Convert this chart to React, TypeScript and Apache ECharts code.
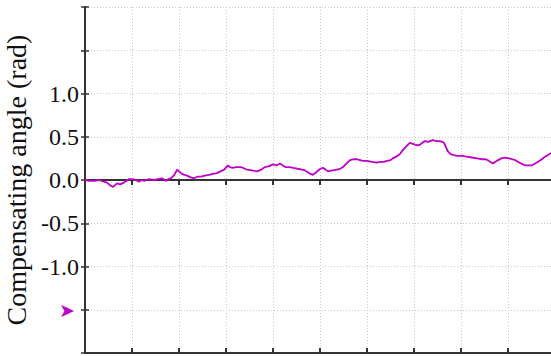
import React, { useEffect, useRef } from "react";
import * as echarts from "echarts";

// Time axis (arbitrary units, one grid cell per unit) and the measured angle
const timeAxis: number[] = [
  0.0, 0.1, 0.21, 0.3, 0.4, 0.47, 0.53, 0.6, 0.64, 0.68, 0.75, 0.83, 0.88, 0.94, 1.02, 1.08,
  1.15, 1.2, 1.26, 1.36, 1.47, 1.55, 1.64, 1.72, 1.78, 1.83, 1.9, 1.96, 2.0, 2.06, 2.12, 2.17,
  2.25, 2.32, 2.4, 2.47, 2.55, 2.64, 2.72, 2.81, 2.88, 2.96, 3.04, 3.08, 3.13, 3.22, 3.32, 3.4,
  3.45, 3.55, 3.66, 3.75, 3.83, 3.92, 4.0, 4.08, 4.15, 4.2, 4.26, 4.35, 4.43, 4.52, 4.62, 4.68,
  4.74, 4.8, 4.85, 4.9, 4.96, 5.01, 5.06, 5.12, 5.17, 5.27, 5.36, 5.43, 5.49, 5.56, 5.64, 5.72,
  5.79, 5.85, 5.91, 6.0, 6.11, 6.2, 6.28, 6.36, 6.43, 6.5, 6.55, 6.62, 6.7, 6.74, 6.82, 6.91,
  6.96, 7.02, 7.08, 7.13, 7.18, 7.23, 7.3, 7.4, 7.48, 7.55, 7.6, 7.64, 7.68, 7.72, 7.78, 7.83,
  7.92, 8.02, 8.12, 8.23, 8.34, 8.45, 8.52, 8.57, 8.62, 8.68, 8.73, 8.79, 8.86, 8.94, 9.02, 9.09,
  9.15, 9.21, 9.28, 9.36, 9.44, 9.51, 9.58, 9.64, 9.72, 9.79, 9.85, 9.91, 10.0,
];

const angle: number[] = [
  0.0, -0.01, -0.01, 0.0, -0.02, -0.03, -0.06, -0.08, -0.06, -0.04, -0.05, -0.03, -0.01, 0.01, 0.01, 0.0,
  -0.02, 0.0, -0.01, 0.01, 0.0, 0.01, 0.02, -0.01, 0.01, 0.02, 0.06, 0.12, 0.1, 0.07, 0.06, 0.05,
  0.03, 0.02, 0.04, 0.04, 0.05, 0.06, 0.07, 0.08, 0.1, 0.12, 0.17, 0.15, 0.14, 0.15, 0.15, 0.13,
  0.12, 0.11, 0.1, 0.12, 0.15, 0.16, 0.18, 0.17, 0.19, 0.17, 0.15, 0.15, 0.14, 0.13, 0.12, 0.11,
  0.09, 0.07, 0.06, 0.08, 0.11, 0.13, 0.14, 0.12, 0.1, 0.11, 0.12, 0.13, 0.15, 0.19, 0.23, 0.24,
  0.24, 0.23, 0.22, 0.22, 0.21, 0.2, 0.21, 0.21, 0.22, 0.23, 0.25, 0.27, 0.3, 0.33, 0.38, 0.43,
  0.42, 0.41, 0.4, 0.41, 0.43, 0.45, 0.44, 0.46, 0.45, 0.45, 0.44, 0.43, 0.38, 0.33, 0.3, 0.29,
  0.28, 0.28, 0.27, 0.26, 0.25, 0.24, 0.24, 0.23, 0.21, 0.19, 0.21, 0.23, 0.25, 0.26, 0.25, 0.24,
  0.23, 0.21, 0.19, 0.17, 0.17, 0.17, 0.19, 0.21, 0.24, 0.27, 0.29, 0.31, 0.32,
];

// Only the central angle ticks carry a number; -1.5 carries the marker arrow
const labelledTicks: number[] = [-1.0, -0.5, 0.0, 0.5, 1.0];
const markerTick = -1.5;

const serif = "Liberation Serif";
const lineColor = "#c000c8";
const frameColor = "#333333";
const gridColor = "#c8c8c8";
const gridLeft = 85;
const labelMargin = 6;

export default function App() {
  const ref = useRef<HTMLDivElement>(null);

  useEffect(() => {
    if (!ref.current) return;
    const chart = echarts.init(ref.current, undefined, { renderer: "svg" });

    const points = timeAxis.map((t, i) => [t, angle[i]]);

    const splitLine = {
      show: true,
      lineStyle: { color: gridColor, type: [1, 2] as any, width: 1 },
    };

    chart.setOption({
      animation: false,
      backgroundColor: "#ffffff",
      textStyle: { fontFamily: serif },
      grid: {
        left: gridLeft,
        right: -4,
        top: 7,
        bottom: 3,
        containLabel: false,
        outerBoundsMode: "none",
      },
      xAxis: [
        {
          type: "value",
          min: 0,
          max: 10,
          interval: 1,
          position: "bottom",
          axisLine: { show: true, onZero: false, lineStyle: { color: frameColor, width: 2 } },
          axisTick: { show: true, inside: true, length: 5, lineStyle: { color: frameColor, width: 2 } },
          axisLabel: { show: false },
          splitLine,
        },
        {
          type: "value",
          min: 0,
          max: 10,
          interval: 1,
          position: "top",
          axisLine: { show: true, lineStyle: { color: frameColor, width: 2 } },
          axisTick: { show: true, inside: true, length: 5, lineStyle: { color: frameColor, width: 2 } },
          axisLabel: { show: false },
          splitLine: { show: false },
        },
      ],
      yAxis: [
        {
          type: "value",
          min: -2,
          max: 2,
          interval: 0.5,
          position: "left",
          name: "Compensating angle (rad)",
          nameLocation: "middle",
          nameRotate: 90,
          nameGap: 52,
          nameTextStyle: { fontFamily: serif, fontSize: 28, color: "#111111" },
          axisLine: { show: true, onZero: false, lineStyle: { color: frameColor, width: 2 } },
          axisTick: { show: true, inside: true, length: 4, lineStyle: { color: frameColor, width: 1.5 } },
          axisLabel: {
            show: true,
            margin: labelMargin,
            fontFamily: serif,
            fontSize: 24,
            color: "#111111",
            formatter: (v: number) => {
              const hit = labelledTicks.find((t) => Math.abs(t - v) < 1e-6);
              return hit === undefined ? "" : hit.toFixed(1);
            },
          },
          splitLine,
        },
        {
          type: "value",
          min: -2,
          max: 2,
          interval: 0.5,
          position: "right",
          axisLine: { show: true, lineStyle: { color: frameColor, width: 2 } },
          axisTick: { show: true, inside: true, length: 4, lineStyle: { color: frameColor, width: 1.5 } },
          axisLabel: { show: false },
          splitLine: { show: false },
        },
      ],
      series: [
        {
          type: "line",
          xAxisIndex: 0,
          yAxisIndex: 0,
          data: points,
          showSymbol: false,
          symbol: "none",
          lineStyle: { color: lineColor, width: 1.8 },
          silent: true,
        },
      ],
    });

    // Marker arrow beside the -1.5 tick, placed through the axis scale
    const markerY = chart.convertToPixel({ yAxisIndex: 0 }, markerTick) as number;
    chart.setOption({
      graphic: [
        {
          type: "text",
          x: gridLeft - labelMargin - 4,
          y: markerY,
          style: {
            text: "➤",
            fill: lineColor,
            fontSize: 19,
            fontFamily: "DejaVu Sans",
            align: "right",
            verticalAlign: "middle",
          },
        },
      ],
    });

    return () => chart.dispose();
  }, []);

  return (
    <div
      ref={ref}
      style={{ position: "fixed", left: 0, top: 0, width: 551, height: 356, background: "#fff" }}
    />
  );
}
